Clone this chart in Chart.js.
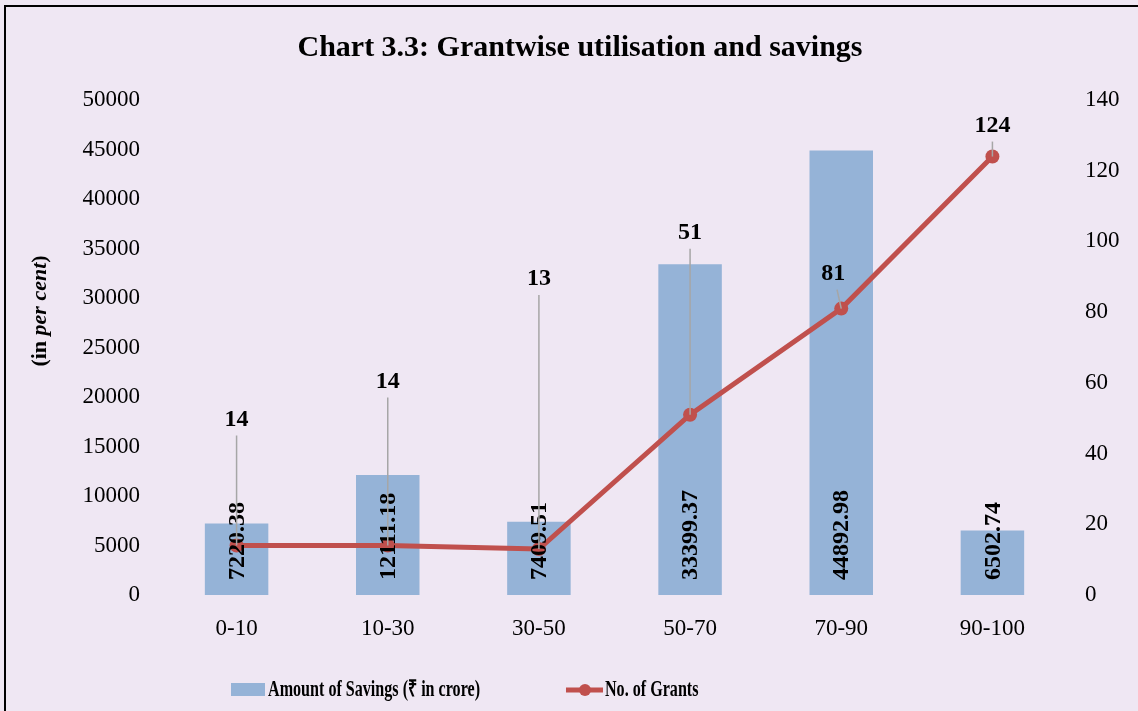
<!DOCTYPE html>
<html>
<head>
<meta charset="utf-8">
<script src="https://cdn.jsdelivr.net/npm/chart.js@4.4.1/dist/chart.umd.min.js"></script>
<style>
  html, body { margin: 0; padding: 0; background: #EFE7F3; }
  canvas { display: block; }
</style>
</head>
<body>
<canvas id="chart" width="1138" height="711"></canvas>
<script>
const categories = ['0-10', '10-30', '30-50', '50-70', '70-90', '90-100'];
const savings = [7220.38, 12111.18, 7409.51, 33399.37, 44892.98, 6502.74];
const grants = [14, 14, 13, 51, 81, 124];
const savingsTicks = [0, 5000, 10000, 15000, 20000, 25000, 30000, 35000, 40000, 45000, 50000];
const grantTicks = [0, 20, 40, 60, 80, 100, 120, 140];

const BAR_COLOR = '#95B3D7';
const LINE_COLOR = '#C0504D';
const SERIF = '"Liberation Serif", "Times New Roman", serif';

// texte condensé (le rendu d'origine est plus étroit que Times)
function condensedText(ctx, text, x, y, factor) {
  ctx.save();
  ctx.translate(x, y);
  ctx.scale(factor, 1);
  ctx.fillText(text, 0, 0);
  const w = ctx.measureText(text).width * factor;
  ctx.restore();
  return w;
}

const extras = {
  id: 'extras',
  beforeDraw(chart) {
    const { ctx, width, height } = chart;
    ctx.save();
    ctx.fillStyle = '#EFE7F3';
    ctx.fillRect(0, 0, width, height);
    ctx.strokeStyle = '#000';
    ctx.lineWidth = 2;
    ctx.beginPath();
    ctx.moveTo(5, height);
    ctx.lineTo(5, 6);
    ctx.lineTo(width, 6);
    ctx.stroke();
    ctx.restore();
  },
  afterDatasetsDraw(chart, args, opts) {
    const { ctx, chartArea } = chart;
    const bars = chart.getDatasetMeta(0).data;
    const pts = chart.getDatasetMeta(1).data;
    ctx.save();
    ctx.fillStyle = '#000';
    ctx.font = 'bold 24px ' + SERIF;

    // valeurs des barres, verticales, en bas de chaque barre
    ctx.textAlign = 'left';
    ctx.textBaseline = 'middle';
    bars.forEach((b, i) => {
      ctx.save();
      ctx.translate(b.x + 1, chartArea.bottom - 15);
      ctx.rotate(-Math.PI / 2);
      ctx.fillText(savings[i].toFixed(2), 0, 0);
      ctx.restore();
    });

    // étiquettes de la courbe avec traits de rappel
    ctx.textAlign = 'center';
    pts.forEach((p, i) => {
      const [dx, dy] = opts.labelOffsets[i];
      const lx = p.x + dx;
      const ly = p.y + dy;
      const t = 17 / (p.y - ly);
      ctx.strokeStyle = '#A6A6A6';
      ctx.lineWidth = 1.5;
      ctx.beginPath();
      ctx.moveTo(lx + (p.x - lx) * t, ly + 17);
      ctx.lineTo(p.x, p.y);
      ctx.stroke();
      ctx.fillText(String(grants[i]), lx, ly + 1);
    });
    ctx.restore();
  },
  afterDraw(chart) {
    const { ctx, chartArea } = chart;
    ctx.save();
    ctx.fillStyle = '#000';

    // titre de l'axe gauche : (in per cent)
    const parts = [
      ['(in ', 'bold 22px ' + SERIF],
      ['per cent', 'italic bold 22px ' + SERIF],
      [')', 'bold 22px ' + SERIF],
    ];
    let total = 0;
    parts.forEach(([txt, f]) => { ctx.font = f; total += ctx.measureText(txt).width; });
    ctx.translate(chartArea.left - 121, chartArea.top + 211);
    ctx.rotate(-Math.PI / 2);
    ctx.textAlign = 'left';
    ctx.textBaseline = 'middle';
    let x = -total / 2;
    parts.forEach(([txt, f]) => {
      ctx.font = f;
      ctx.fillText(txt, x, 0);
      x += ctx.measureText(txt).width;
    });
    ctx.restore();

    // légende
    const ds = chart.data.datasets;
    const y = chartArea.bottom + 95;
    ctx.save();
    ctx.font = 'bold 23px ' + SERIF;
    ctx.textAlign = 'left';
    ctx.textBaseline = 'middle';
    let lx = chartArea.left + 70;
    ctx.fillStyle = BAR_COLOR;
    ctx.fillRect(lx, y - 7, 34, 13);
    lx += 37;
    ctx.fillStyle = '#000';
    lx += condensedText(ctx, ds[0].label, lx, y, 0.70) + 86;
    ctx.strokeStyle = LINE_COLOR;
    ctx.lineWidth = 5;
    ctx.beginPath();
    ctx.moveTo(lx, y);
    ctx.lineTo(lx + 37, y);
    ctx.stroke();
    ctx.fillStyle = LINE_COLOR;
    ctx.beginPath();
    ctx.arc(lx + 19, y, 6, 0, Math.PI * 2);
    ctx.fill();
    lx += 39;
    ctx.fillStyle = '#000';
    condensedText(ctx, ds[1].label, lx, y, 0.70);
    ctx.restore();
  },
};

const plainTick = (v) => String(v);

new Chart(document.getElementById('chart'), {
  type: 'bar',
  data: {
    labels: categories,
    datasets: [
      {
        label: 'Amount of Savings (₹ in crore)',
        data: savings,
        backgroundColor: BAR_COLOR,
        barPercentage: 0.42,
        categoryPercentage: 1,
        yAxisID: 'y',
        order: 1,
      },
      {
        type: 'line',
        label: 'No. of Grants',
        data: grants,
        borderColor: LINE_COLOR,
        backgroundColor: LINE_COLOR,
        borderWidth: 5,
        pointRadius: 7,
        pointBorderWidth: 0,
        pointBackgroundColor: LINE_COLOR,
        tension: 0,
        yAxisID: 'y1',
        order: 0,
      },
    ],
  },
  options: {
    responsive: false,
    animation: false,
    layout: { padding: { left: 22, right: 0, top: 0, bottom: 56 } },
    plugins: {
      legend: { display: false },
      tooltip: { enabled: false },
      title: {
        display: true,
        text: 'Chart 3.3: Grantwise utilisation and savings',
        color: '#000',
        font: { family: SERIF, size: 30, weight: 'bold' },
        padding: { top: 30, bottom: 34 },
      },
      extras: {
        labelOffsets: [[0, -127], [0, -165], [0, -271], [0, -183], [-8, -36], [0, -32]],
      },
    },
    scales: {
      x: {
        grid: { display: false },
        border: { display: false },
        ticks: { color: '#000', font: { family: SERIF, size: 23 }, padding: 12 },
        afterFit: (s) => { s.height = 60; },
      },
      y: {
        position: 'left',
        min: savingsTicks[0],
        max: savingsTicks[savingsTicks.length - 1],
        grid: { display: false },
        border: { display: false },
        ticks: { color: '#000', font: { family: SERIF, size: 23 }, padding: 13, callback: plainTick },
        afterBuildTicks: (s) => { s.ticks = savingsTicks.map((v) => ({ value: v })); },
        afterFit: (s) => { s.width = 139; },
      },
      y1: {
        position: 'right',
        min: grantTicks[0],
        max: grantTicks[grantTicks.length - 1],
        grid: { display: false },
        border: { display: false },
        ticks: { color: '#000', font: { family: SERIF, size: 23 }, padding: 9, callback: plainTick },
        afterBuildTicks: (s) => { s.ticks = grantTicks.map((v) => ({ value: v })); },
        afterFit: (s) => { s.width = 70; },
      },
    },
  },
  plugins: [extras],
});
</script>
</body>
</html>
